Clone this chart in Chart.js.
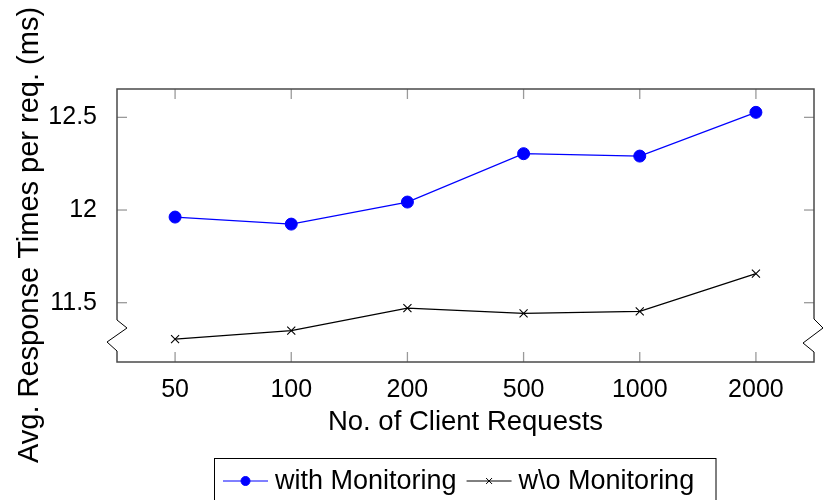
<!DOCTYPE html>
<html>
<head>
<meta charset="utf-8">
<script src="https://cdn.jsdelivr.net/npm/chart.js@4.4.0/dist/chart.umd.min.js"></script>
<style>
html, body { margin: 0; padding: 0; background: #fff; }
</style>
</head>
<body>
<canvas id="chart" width="823" height="500"></canvas>
<script>
const categories = ["50", "100", "200", "500", "1000", "2000"];
const withMonitoring = [11.962, 11.924, 12.043, 12.304, 12.291, 12.527];
const withoutMonitoring = [11.303, 11.349, 11.471, 11.442, 11.453, 11.657];
const yTicks = [11.5, 12, 12.5];
const yMin = 11.18;
const yMax = 12.653;
const FONT = "'Liberation Sans', Arial, Helvetica, sans-serif";

const canvas = document.getElementById("chart");
const ctx = canvas.getContext("2d");

function seg(c, x1, y1, x2, y2) {
  c.beginPath();
  c.moveTo(x1, y1);
  c.lineTo(x2, y2);
  c.stroke();
}

// pgfplots style frame: inward ticks, box, axis breaks, y title, legend
const framePlugin = {
  id: "frame",
  afterDraw(chart) {
    const c = chart.ctx;
    const a = chart.chartArea;
    const xs = chart.scales.x;
    const ys = chart.scales.y;
    const TL = 10;
    c.save();

    c.strokeStyle = "#9a9a9a";
    c.lineWidth = 1.3;
    xs.ticks.forEach((t, i) => {
      const px = xs.getPixelForTick(i);
      seg(c, px, a.top, px, a.top + TL);
      seg(c, px, a.bottom, px, a.bottom - TL);
    });
    ys.ticks.forEach((t) => {
      const py = ys.getPixelForValue(t.value);
      seg(c, a.left, py, a.left + TL, py);
      seg(c, a.right, py, a.right - TL, py);
    });

    c.strokeStyle = "#4a4a4a";
    c.lineWidth = 1.5;
    c.strokeRect(a.left, a.top, a.right - a.left, a.bottom - a.top);

    // axis break zigzags
    c.fillStyle = "#fff";
    c.fillRect(a.left - 3, a.bottom - 42, 6, 31);
    c.fillRect(a.right - 3, a.bottom - 43, 6, 33);
    c.strokeStyle = "#000";
    c.lineWidth = 1;
    c.beginPath();
    c.moveTo(a.left, a.bottom - 42);
    c.lineTo(a.left + 10, a.bottom - 34);
    c.lineTo(a.left - 10, a.bottom - 20);
    c.lineTo(a.left, a.bottom - 11);
    c.stroke();
    c.beginPath();
    c.moveTo(a.right, a.bottom - 43);
    c.lineTo(a.right + 9, a.bottom - 34);
    c.lineTo(a.right - 11, a.bottom - 19);
    c.lineTo(a.right, a.bottom - 10);
    c.stroke();

    // y axis title
    c.save();
    c.translate(30, 235);
    c.rotate(-Math.PI / 2);
    c.fillStyle = "#000";
    c.font = "29px " + FONT;
    c.textAlign = "center";
    c.textBaseline = "middle";
    c.fillText("Avg. Response Times per req. (ms)", 0, 0);
    c.restore();

    // legend
    c.strokeStyle = "#000";
    c.lineWidth = 1;
    c.strokeRect(214.5, 458.5, 501.5, 60);
    c.font = "27px " + FONT;
    c.textAlign = "left";
    c.textBaseline = "middle";
    let lx = 223;
    const ly = 481;
    chart.data.datasets.forEach((ds) => {
      c.strokeStyle = ds.borderColor;
      c.lineWidth = 1;
      seg(c, lx, ly, lx + 45, ly);
      c.fillStyle = ds.backgroundColor;
      Chart.helpers.drawPoint(c, {
        pointStyle: ds.pointStyle,
        radius: ds.legendRadius,
        rotation: 0,
        borderWidth: 1,
      }, lx + 22.5, ly);
      c.fillStyle = "#000";
      c.fillText(ds.label, lx + 52, ly + 1);
      lx += 52 + c.measureText(ds.label).width + 10;
    });

    c.restore();
  },
};

new Chart(ctx, {
  type: "line",
  data: {
    labels: categories,
    datasets: [
      {
        label: "with Monitoring",
        data: withMonitoring,
        borderColor: "#0000ff",
        backgroundColor: "#0000ff",
        borderWidth: 1.2,
        pointStyle: "circle",
        pointRadius: 6,
        pointBorderWidth: 1,
        legendRadius: 4.5,
        tension: 0,
      },
      {
        label: "w\\o Monitoring",
        data: withoutMonitoring,
        borderColor: "#000000",
        backgroundColor: "#000000",
        borderWidth: 1.2,
        pointStyle: "crossRot",
        pointRadius: 5.7,
        pointBorderWidth: 1.1,
        legendRadius: 4.2,
        tension: 0,
      },
    ],
  },
  options: {
    responsive: false,
    animation: false,
    layout: { padding: { left: 0, right: 9, top: 89, bottom: 58 } },
    plugins: {
      legend: { display: false },
      tooltip: { enabled: false },
    },
    scales: {
      x: {
        offset: true,
        grid: { display: false },
        border: { display: false },
        ticks: { color: "#000", padding: 5, font: { family: FONT, size: 25 } },
        title: {
          display: true,
          text: "No. of Client Requests",
          color: "#000",
          padding: { top: 0, bottom: 3 },
          font: { family: FONT, size: 27.5 },
        },
        afterFit(scale) {
          scale.height = 80;
        },
      },
      y: {
        min: yMin,
        max: yMax,
        grid: { display: false },
        border: { display: false },
        ticks: {
          color: "#000",
          padding: 12,
          font: { family: FONT, size: 25 },
          callback: (v) => String(v),
        },
        afterBuildTicks(scale) {
          scale.ticks = yTicks.map((v) => ({ value: v }));
        },
        afterFit(scale) {
          scale.width = 117;
        },
      },
    },
  },
  plugins: [framePlugin],
});
</script>
</body>
</html>
